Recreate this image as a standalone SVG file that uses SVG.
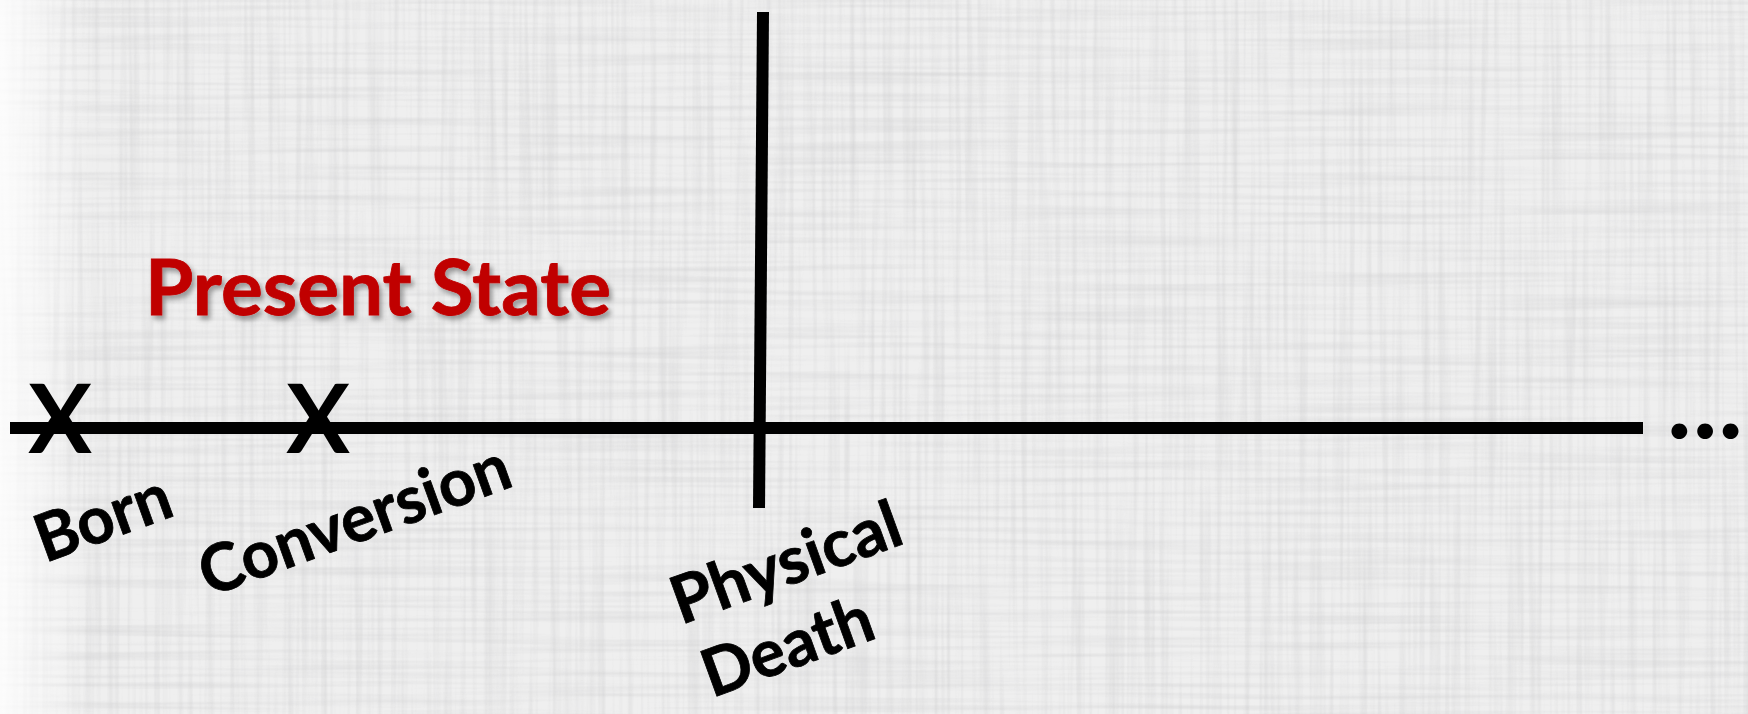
<svg xmlns="http://www.w3.org/2000/svg" width="1748" height="714" viewBox="0 0 1748 714">
  <defs>
    <style>
      .lbl { font-family: Lato, "Open Sans", "Liberation Sans", sans-serif; font-weight: 700; fill: #000000; }
      .title { font-family: Lato, "Open Sans", "Liberation Sans", sans-serif; font-weight: 700; fill: #C00000; font-size: 76px; }
      .mark { font-family: Lato, "Open Sans", "Liberation Sans", sans-serif; font-weight: 700; fill: #000000; font-size: 95px; }
      .rot { font-size: 66px; stroke: #000000; stroke-width: 0.8px; }
      .bar { fill: #000000; }
    </style>
    <filter id="vstreak" x="0" y="0" width="100%" height="100%">
      <feTurbulence type="fractalNoise" baseFrequency="0.18 0.004" numOctaves="2" seed="3" result="n"/>
      <feColorMatrix type="matrix" values="0 0 0 0 0.55  0 0 0 0 0.55  0 0 0 0 0.56  1.3 0 0 0 -0.55"/>
    </filter>
    <filter id="hstreak" x="0" y="0" width="100%" height="100%">
      <feTurbulence type="fractalNoise" baseFrequency="0.004 0.18" numOctaves="2" seed="7" result="n"/>
      <feColorMatrix type="matrix" values="0 0 0 0 0.55  0 0 0 0 0.55  0 0 0 0 0.56  1.3 0 0 0 -0.55"/>
    </filter>
    <linearGradient id="leftfade" x1="0" y1="0" x2="1" y2="0">
      <stop offset="0" stop-color="#ffffff" stop-opacity="0.85"/>
      <stop offset="1" stop-color="#ffffff" stop-opacity="0"/>
    </linearGradient>
    <filter id="shadow" x="-5%" y="-20%" width="110%" height="150%">
      <feDropShadow dx="3" dy="4" stdDeviation="2.5" flood-color="#000000" flood-opacity="0.35"/>
    </filter>
  </defs>

  <g id="background">
    <rect x="0" y="0" width="1748" height="714" fill="#EFEFEF"/>
    <rect x="0" y="0" width="1748" height="714" filter="url(#vstreak)" opacity="0.55"/>
    <rect x="0" y="0" width="1748" height="714" filter="url(#hstreak)" opacity="0.55"/>
    <rect x="0" y="0" width="90" height="714" fill="url(#leftfade)"/>
  </g>

  <g id="connectors">
    <rect id="timeline" class="bar" x="10" y="422" width="1633" height="12"/>
    <polygon id="death-line" class="bar" points="757,12 769,12 765,508 753,508"/>
  </g>

  <g id="present-state">
    <text class="title" x="145" y="315" textLength="466" lengthAdjust="spacingAndGlyphs" stroke="#C00000" stroke-width="0.8" filter="url(#shadow)">Present State</text>
  </g>

  <g id="born">
    <text class="mark" x="60" y="453" text-anchor="middle">X</text>
    <text class="lbl rot" x="45" y="563" textLength="140" lengthAdjust="spacingAndGlyphs" transform="rotate(-20 45 563)">Born</text>
  </g>

  <g id="conversion">
    <text class="mark" x="318" y="453" text-anchor="middle">X</text>
    <text class="lbl rot" x="209" y="597" textLength="326" lengthAdjust="spacingAndGlyphs" transform="rotate(-20 209 597)">Conversion</text>
  </g>

  <g id="physical-death">
    <text class="lbl rot" x="681" y="625" textLength="240" lengthAdjust="spacingAndGlyphs" transform="rotate(-20 681 625)">Physical</text>
    <text class="lbl rot" x="712" y="698" textLength="177" lengthAdjust="spacingAndGlyphs" transform="rotate(-20 712 698)">Death</text>
  </g>

  <g id="continuation">
    <text class="lbl" x="1667" y="438" font-size="104" textLength="76" lengthAdjust="spacing">...</text>
  </g>
</svg>
